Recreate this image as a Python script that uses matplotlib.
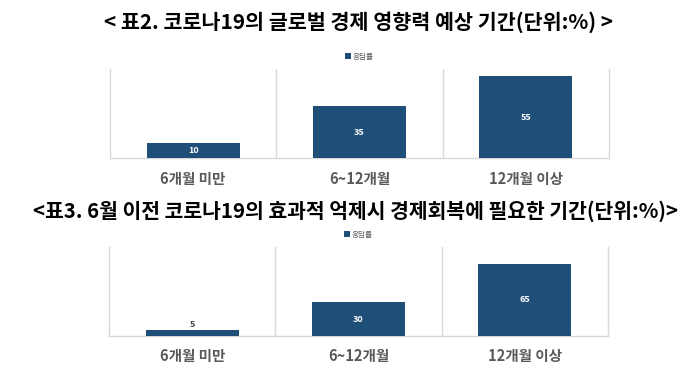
import matplotlib
matplotlib.use("Agg")
import matplotlib.pyplot as plt

plt.rcParams["font.family"] = ["Noto Sans CJK KR", "DejaVu Sans"]

categories = ["6개월 미만", "6~12개월", "12개월 이상"]
impact_values = [10, 35, 55]
recovery_values = [5, 30, 65]
series_name = "응답률"
title_top = "< 표2. 코로나19의 글로벌 경제 영향력 예상 기간(단위:%) >"
title_bottom = "<표3. 6월 이전 코로나19의 효과적 억제시 경제회복에 필요한 기간(단위:%)>"

BAR = "#1f4e79"
GRID = "#d9d9d9"
LABEL = "#595959"


def draw_panel(ax, values, ymax):
    x = list(range(len(categories)))
    bars = ax.bar(x, values, width=0.56, color=BAR, label=series_name, zorder=3)
    ax.set_xlim(-0.5, len(categories) - 0.5)
    ax.set_ylim(0, ymax)
    for xb in [i + 0.5 for i in x[:-1]]:
        ax.axvline(xb, color=GRID, linewidth=1, zorder=1)
    for side in ["left", "right", "bottom"]:
        ax.spines[side].set_color(GRID)
        ax.spines[side].set_linewidth(1)
    ax.spines["top"].set_visible(False)
    ax.set_yticks([])
    ax.set_xticks(x, categories)
    ax.tick_params(axis="x", length=0, pad=9, labelsize=10.5, labelcolor=LABEL)
    for t in ax.get_xticklabels():
        t.set_fontweight("bold")
    for b, v in zip(bars, values):
        if v / ymax < 0.12:
            ax.annotate(str(v), (b.get_x() + b.get_width() / 2, v), xytext=(0, 1),
                        textcoords="offset points", ha="center", va="bottom",
                        fontsize=6.5, color="#404040", fontweight="bold")
        else:
            ax.text(b.get_x() + b.get_width() / 2, v / 2, str(v), ha="center", va="center",
                    fontsize=6.5, color="white", fontweight="bold", zorder=4)
    ax.legend(loc="lower center", bbox_to_anchor=(0.5, 1.05), frameon=False, fontsize=5.5,
              handlelength=0.7, handleheight=0.7, handletextpad=0.3, labelcolor=LABEL,
              borderpad=0)


fig = plt.figure(figsize=(6.99, 3.69), dpi=100)
ax1 = fig.add_axes([0.1574, 0.5718, 0.7138, 0.2412])
ax2 = fig.add_axes([0.1560, 0.0902, 0.7139, 0.2404])
draw_panel(ax1, impact_values, 60)
draw_panel(ax2, recovery_values, 80)

fig.text(0.513, 1 - 22 / 369, title_top, ha="center", va="center", fontsize=14.9,
         fontweight="bold", color="black")
fig.text(0.509, 1 - 211 / 369, title_bottom, ha="center", va="center", fontsize=14.7,
         fontweight="bold", color="black")

plt.savefig("out.png", dpi=100)
plt.close()
